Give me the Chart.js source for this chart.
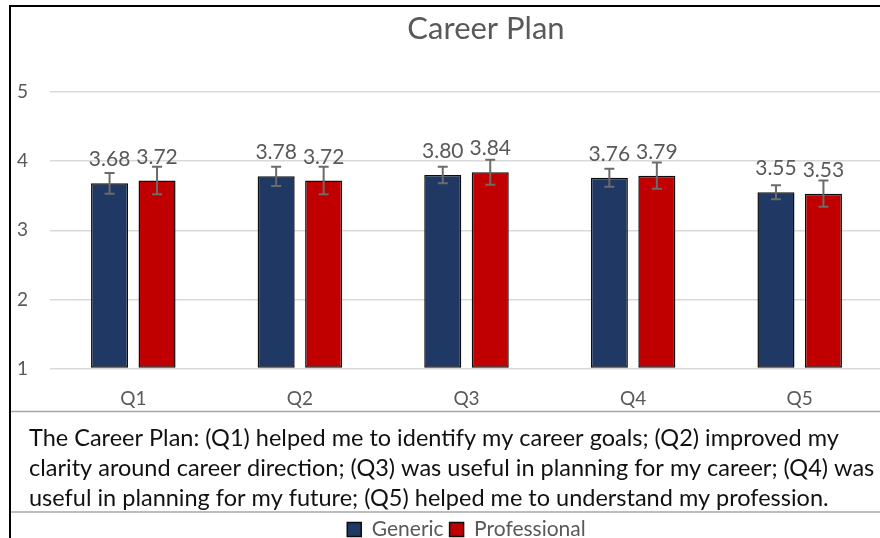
<!DOCTYPE html>
<html>
<head>
<meta charset="utf-8">
<script src="https://cdn.jsdelivr.net/npm/chart.js@4"></script>
<style>
    html, body { margin: 0; padding: 0; background: #fff; overflow: hidden; }
    #grafico { display: block; }
</style>
</head>
<body>
<canvas id="grafico" width="960" height="550"></canvas>
<script>
const categories = ['Q1', 'Q2', 'Q3', 'Q4', 'Q5'];
const generic = [3.68, 3.78, 3.80, 3.76, 3.55];
const professional = [3.72, 3.72, 3.84, 3.79, 3.53];
const genericErr = [0.15, 0.14, 0.12, 0.13, 0.10];
const professionalErr = [0.20, 0.20, 0.18, 0.19, 0.19];
const yTicks = [1, 2, 3, 4, 5];
const caption = [
    'The Career Plan: (Q1) helped me to identify my career goals; (Q2) improved my',
    'clarity around career direction; (Q3) was useful in planning for my career; (Q4) was',
    'useful in planning for my future; (Q5) helped me to understand my profession.'
];

const fonte = 'Lato, "Open Sans", sans-serif';
const cinza = '#595959';
const errors = [genericErr, professionalErr];

// white page, black frame and the two grey lines round the caption
const fundo = {
    id: 'fundo',
    afterLayout(chart) {
        // move the caption (subtitle) a bit to the right of the y labels
        chart.boxes.forEach(b => {
            if (b !== chart.legend && b !== chart.titleBlock && !b.axis && b.position === 'bottom') {
                b.left += 17;
            }
        });
    },
    beforeDraw(chart) {
        const ctx = chart.ctx;
        ctx.save();
        ctx.fillStyle = '#fff';
        ctx.fillRect(0, 0, chart.width, chart.height);
        ctx.fillStyle = '#000';
        ctx.fillRect(9, 5, 2, chart.height);
        ctx.fillRect(9, 5, chart.width, 2);
        ctx.strokeStyle = '#a6a6a6';
        ctx.lineWidth = 1.5;
        const y1 = chart.scales.x.bottom + 2;
        const y2 = chart.legend.top - 1;
        [y1, y2].forEach(y => {
            ctx.beginPath();
            ctx.moveTo(11, y);
            ctx.lineTo(chart.width, y);
            ctx.stroke();
        });
        ctx.restore();
    }
};

// error bars and value labels
const barrasErro = {
    id: 'barrasErro',
    afterDatasetsDraw(chart) {
        const ctx = chart.ctx;
        const y = chart.scales.y;
        ctx.save();
        chart.data.datasets.forEach((ds, i) => {
            const meta = chart.getDatasetMeta(i);
            meta.data.forEach((bar, j) => {
                const v = ds.data[j];
                const e = errors[i][j];
                const top = y.getPixelForValue(v + e);
                const bot = y.getPixelForValue(v - e);
                ctx.strokeStyle = '#6b6b6b';
                ctx.lineWidth = 2;
                ctx.beginPath();
                ctx.moveTo(bar.x, top);
                ctx.lineTo(bar.x, bot);
                ctx.moveTo(bar.x - 5, top);
                ctx.lineTo(bar.x + 5, top);
                ctx.moveTo(bar.x - 5, bot);
                ctx.lineTo(bar.x + 5, bot);
                ctx.stroke();

                ctx.fillStyle = cinza;
                ctx.font = '21px ' + fonte;
                ctx.textAlign = 'center';
                ctx.textBaseline = 'alphabetic';
                ctx.fillText(v.toFixed(2), bar.x, bar.y - 17);
            });
        });
        ctx.restore();
    }
};

const ctx = document.getElementById('grafico').getContext('2d');

const grafico = new Chart(ctx, {
    type: 'bar',
    data: {
        labels: categories,
        datasets: [{
            label: 'Generic',
            data: generic,
            backgroundColor: '#1F3864',
            borderColor: '#0d0d0d',
            borderWidth: 1.5,
            borderSkipped: false,
            base: 1
        }, {
            label: 'Professional',
            data: professional,
            backgroundColor: '#C00000',
            borderColor: '#0d0d0d',
            borderWidth: 1.5,
            borderSkipped: false,
            base: 1
        }]
    },
    options: {
        responsive: false,
        animation: false,
        devicePixelRatio: 1,
        categoryPercentage: 0.57,
        barPercentage: 0.78,
        layout: {
            padding: { left: 12, right: 0, top: 0, bottom: 0 }
        },
        scales: {
            x: {
                afterFit(scale) {
                    scale.height = 41;
                },
                grid: { display: false, drawTicks: false },
                border: { display: false },
                ticks: {
                    color: cinza,
                    padding: 19,
                    font: { family: fonte, size: 19 }
                }
            },
            y: {
                min: 1,
                max: 5,
                afterBuildTicks(scale) {
                    scale.ticks = yTicks.map(v => ({ value: v }));
                },
                afterFit(scale) {
                    scale.width = 38;
                },
                grid: { color: '#d9d9d9', lineWidth: 1.5, drawTicks: false },
                border: { display: false },
                ticks: {
                    color: cinza,
                    padding: 22,
                    font: { family: fonte, size: 19 }
                }
            },
            y2: {
                position: 'right',
                grid: { display: false },
                border: { display: false },
                ticks: { display: false },
                afterFit(scale) {
                    scale.width = 77;
                }
            }
        },
        plugins: {
            tooltip: { enabled: false },
            title: {
                display: true,
                text: 'Career Plan',
                color: cinza,
                font: { family: fonte, size: 31, weight: 'normal' },
                padding: { top: 10.4, bottom: 44.4 }
            },
            subtitle: {
                display: true,
                position: 'bottom',
                align: 'start',
                text: caption,
                color: '#111',
                font: { family: fonte, size: 23.5, weight: 'normal', lineHeight: '30px' },
                padding: { top: 13.4, bottom: 0 }
            },
            legend: {
                position: 'bottom',
                fullSize: false,
                weight: 3000,
                labels: {
                    color: cinza,
                    boxWidth: 14,
                    boxHeight: 14,
                    padding: 6,
                    font: { family: fonte, size: 21 }
                }
            }
        }
    },
    plugins: [fundo, barrasErro]
});
</script>
</body>
</html>
